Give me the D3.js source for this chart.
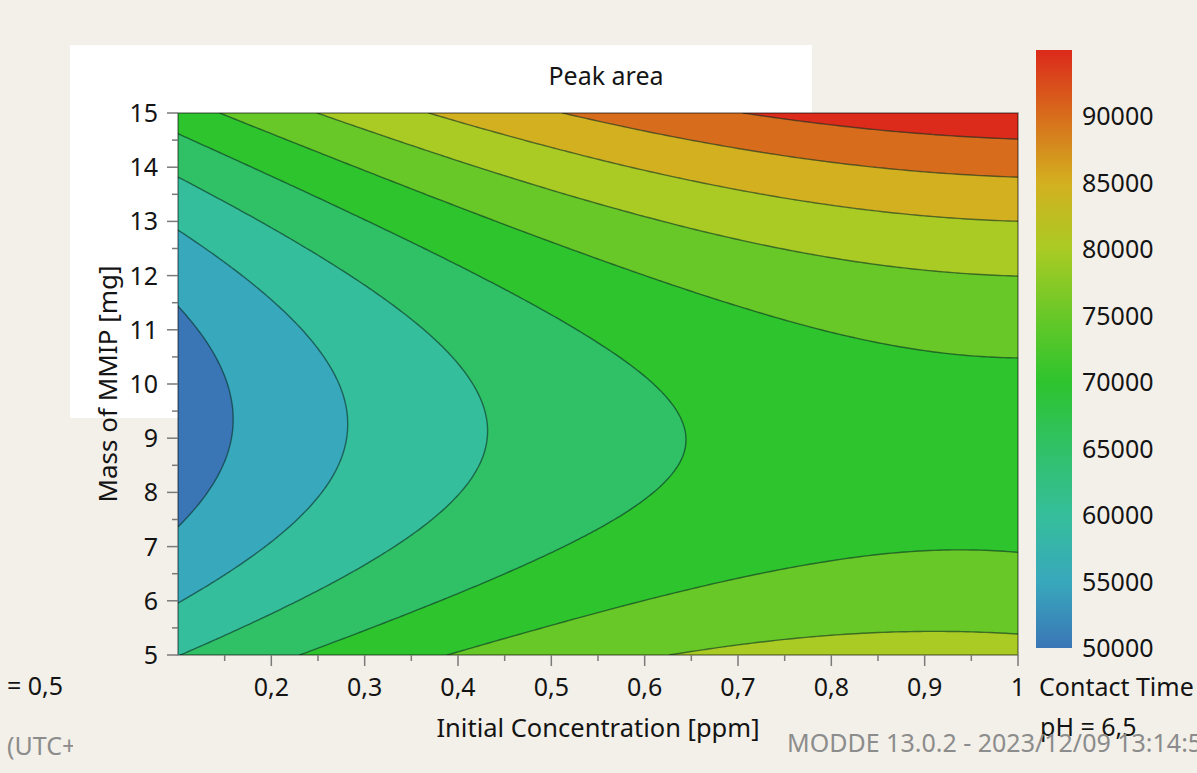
<!DOCTYPE html>
<html>
<head>
<meta charset="utf-8">
<script src="https://cdn.jsdelivr.net/npm/d3@7"></script>
<style>
  body { margin: 0; background: #f3f0e9; }
  svg { display: block; }
  text { font-family: "Noto Sans", "Open Sans", sans-serif; fill: #141414; }
</style>
</head>
<body>
<svg id="chart" width="1197" height="773"></svg>
<script>
// Response surface: Peak area over Initial Concentration (columns) x Mass of MMIP (rows)
const concentration = [0.1, 0.2, 0.3, 0.4, 0.5, 0.6, 0.7, 0.8, 0.9, 1.0];
const mass = [5, 6, 7, 8, 9, 10, 11, 12, 13, 14, 15];
const peakArea = [
  [62390, 66390, 69860, 72810, 75210, 77090, 78430, 79240, 79510, 79260], // 5 mg
  [57320, 61430, 65000, 68040, 70550, 72530, 73970, 74880, 75260, 75110], // 6 mg
  [53550, 57760, 61440, 64580, 67190, 69270, 70820, 71830, 72320, 72260], // 7 mg
  [51080, 55390, 59170, 62420, 65130, 67320, 68970, 70080, 70670, 70720], // 8 mg
  [49910, 54320, 58210, 61560, 64380, 66660, 68410, 69630, 70320, 70470], // 9 mg
  [50040, 54560, 58540, 62000, 64920, 67300, 69160, 70480, 71270, 71530], // 10 mg
  [51470, 56090, 60180, 63730, 66760, 69250, 71200, 72630, 73520, 73880], // 11 mg
  [54200, 58920, 63110, 66770, 69900, 72490, 74550, 76080, 77070, 77540], // 12 mg
  [58230, 63050, 67350, 71110, 74340, 77030, 79200, 80830, 81930, 82490], // 13 mg
  [63560, 68490, 72880, 76750, 80080, 82880, 85140, 86880, 88080, 88750], // 14 mg
  [70190, 75220, 79720, 83690, 87120, 90020, 92390, 94220, 95530, 96300]  // 15 mg
];

// Contour levels and the colour map
const levels = [52500, 57500, 62500, 67500, 72500, 77500, 82500, 87500, 92500];
const colorStopValues = [50000, 55000, 60000, 65000, 70000, 75000, 80000, 85000, 90000, 95000];
const colorStops = ["#3a76b6", "#38a8bc", "#35be9b", "#30c167", "#2ec42e",
                    "#68c828", "#aacb24", "#d3b01f", "#d76d1c", "#dc2a1b"];

// Axis ticks
const xTicks = [0.15, 0.2, 0.25, 0.3, 0.35, 0.4, 0.45, 0.5, 0.55, 0.6, 0.65, 0.7, 0.75, 0.8, 0.85, 0.9, 0.95, 1];
const xTickLabels = [0.2, 0.3, 0.4, 0.5, 0.6, 0.7, 0.8, 0.9, 1];
const yTicks = [5, 5.5, 6, 6.5, 7, 7.5, 8, 8.5, 9, 9.5, 10, 10.5, 11, 11.5, 12, 12.5, 13, 13.5, 14, 14.5, 15];
const yTickLabels = [5, 6, 7, 8, 9, 10, 11, 12, 13, 14, 15];
const colorbarTicks = [50000, 55000, 60000, 65000, 70000, 75000, 80000, 85000, 90000];

const svg = d3.select("#chart");
const fmt = v => String(v).replace(".", ",");
const fs = 25;

const plotL = 178, plotR = 1018, plotT = 113, plotB = 655;
const x = d3.scaleLinear().domain([0.1, 1]).range([plotL, plotR]);
const y = d3.scaleLinear().domain([5, 15]).range([plotB, plotT]);
const color = d3.scaleLinear().domain(colorStopValues).range(colorStops).interpolate(d3.interpolateRgb);

// White panel behind the title area
svg.append("rect").attr("x", 70).attr("y", 45).attr("width", 742).attr("height", 373).attr("fill", "#ffffff");

// ---- Resample the grid with bicubic (Catmull-Rom) smoothing for contouring ----
const nC = concentration.length, nM = mass.length;
function at(i, j) {
  if (i < 0) return 3 * at(0, j) - 3 * at(1, j) + at(2, j);
  if (i > nC - 1) return 3 * at(nC - 1, j) - 3 * at(nC - 2, j) + at(nC - 3, j);
  if (j < 0) return 3 * at(i, 0) - 3 * at(i, 1) + at(i, 2);
  if (j > nM - 1) return 3 * at(i, nM - 1) - 3 * at(i, nM - 2) + at(i, nM - 3);
  return peakArea[j][i];
}
function cr(p0, p1, p2, p3, t) {
  return 0.5 * (2 * p1 + (-p0 + p2) * t + (2 * p0 - 5 * p1 + 4 * p2 - p3) * t * t + (-p0 + 3 * p1 - 3 * p2 + p3) * t * t * t);
}
function sample(gx, gy) {
  const i = Math.min(Math.floor(gx), nC - 2), tx = gx - i;
  const j = Math.min(Math.floor(gy), nM - 2), ty = gy - j;
  const r = [-1, 0, 1, 2].map(dj =>
    cr(at(i - 1, j + dj), at(i, j + dj), at(i + 1, j + dj), at(i + 2, j + dj), tx));
  return cr(r[0], r[1], r[2], r[3], ty);
}
const sub = 20;
const FX = (nC - 1) * sub + 1, FY = (nM - 1) * sub + 1;
const values = new Array(FX * FY);
for (let iy = 0; iy < FY; iy++)
  for (let ix = 0; ix < FX; ix++)
    values[ix + iy * FX] = sample(ix / sub, iy / sub);

const gxToConc = d3.scaleLinear().domain([0.5, FX - 0.5]).range([concentration[0], concentration[nC - 1]]);
const gyToMass = d3.scaleLinear().domain([0.5, FY - 0.5]).range([mass[0], mass[nM - 1]]);
const path = d3.geoPath(d3.geoTransform({
  point(px, py) { this.stream.point(x(gxToConc(px)), y(gyToMass(py))); }
}));

const contours = d3.contours().size([FX, FY]).thresholds(levels)(values);

svg.append("clipPath").attr("id", "plotClip")
  .append("rect").attr("x", plotL).attr("y", plotT).attr("width", plotR - plotL).attr("height", plotB - plotT);

const plot = svg.append("g").attr("clip-path", "url(#plotClip)");
const half = (levels[1] - levels[0]) / 2;
plot.append("rect").attr("x", plotL).attr("y", plotT).attr("width", plotR - plotL).attr("height", plotB - plotT)
  .attr("fill", color(levels[0] - half));
plot.selectAll("path.band").data(contours).join("path")
  .attr("class", "band")
  .attr("d", path)
  .attr("fill", d => color(d.value + half))
  .attr("stroke", "rgba(10,45,35,0.6)")
  .attr("stroke-width", 1.4)
  .attr("stroke-linejoin", "round");

// Plot frame
svg.append("rect").attr("x", plotL).attr("y", plotT).attr("width", plotR - plotL).attr("height", plotB - plotT)
  .attr("fill", "none").attr("stroke", "rgba(0,0,0,0.42)").attr("stroke-width", 1.6);

// ---- Axes ----
const tickColor = "#7a7a7a";
const isMajorX = v => xTickLabels.some(t => Math.abs(t - v) < 1e-9);
svg.append("g").selectAll("line").data(xTicks).join("line")
  .attr("x1", d => x(d)).attr("x2", d => x(d))
  .attr("y1", plotB).attr("y2", d => plotB + (isMajorX(d) ? 11 : 6))
  .attr("stroke", tickColor).attr("stroke-width", 1.5);
svg.append("g").selectAll("text").data(xTickLabels).join("text")
  .attr("x", d => x(d)).attr("y", 696).attr("text-anchor", "middle")
  .attr("font-size", fs).text(fmt);

const isMajorY = v => Number.isInteger(v);
svg.append("g").selectAll("line").data(yTicks).join("line")
  .attr("x1", d => plotL - (isMajorY(d) ? 11 : 6)).attr("x2", plotL)
  .attr("y1", d => y(d)).attr("y2", d => y(d))
  .attr("stroke", tickColor).attr("stroke-width", 1.5);
svg.append("g").selectAll("text").data(yTickLabels).join("text")
  .attr("x", 158).attr("y", d => y(d)).attr("dy", "0.36em").attr("text-anchor", "end")
  .attr("font-size", fs).text(fmt);

svg.append("text").attr("x", 598).attr("y", 737).attr("text-anchor", "middle")
  .attr("font-size", fs + 0.5).text("Initial Concentration [ppm]");
svg.append("text").attr("transform", "translate(117,384) rotate(-90)").attr("text-anchor", "middle")
  .attr("font-size", fs + 1).text("Mass of MMIP [mg]");
svg.append("text").attr("x", 606).attr("y", 85).attr("text-anchor", "middle")
  .attr("font-size", fs).text("Peak area");

// ---- Colour bar ----
const cb = d3.scaleLinear().domain([50000, 95000]).range([648, 50]);
const grad = svg.append("defs").append("linearGradient").attr("id", "cbGrad")
  .attr("x1", 0).attr("y1", 1).attr("x2", 0).attr("y2", 0);
grad.selectAll("stop").data(colorStopValues).join("stop")
  .attr("offset", d => (d - 50000) / 45000)
  .attr("stop-color", d => color(d));
svg.append("rect").attr("x", 1036).attr("y", cb(95000)).attr("width", 36)
  .attr("height", cb(50000) - cb(95000)).attr("fill", "url(#cbGrad)");
svg.append("g").selectAll("text").data(colorbarTicks).join("text")
  .attr("x", 1082).attr("y", d => cb(d)).attr("dy", "0.36em")
  .attr("font-size", fs).text(d => d);

// ---- Factor settings and footer ----
svg.append("text").attr("x", 7).attr("y", 695).attr("font-size", fs).text("= 0,5");
svg.append("text").attr("x", 1039).attr("y", 696).attr("font-size", fs).text("Contact Time");
svg.append("text").attr("x", 1040).attr("y", 736).attr("font-size", fs).text("pH = 6,5");
svg.append("clipPath").attr("id", "utcClip").append("rect").attr("x", 0).attr("y", 720).attr("width", 73).attr("height", 53);
svg.append("text").attr("x", 7).attr("y", 755).attr("font-size", fs).attr("clip-path", "url(#utcClip)")
  .style("fill", "#8c8c8c").text("(UTC+01:00)");
svg.append("text").attr("x", 787).attr("y", 752).attr("font-size", fs)
  .style("fill", "#8c8c8c").text("MODDE 13.0.2 - 2023/12/09 13:14:56");
</script>
</body>
</html>
